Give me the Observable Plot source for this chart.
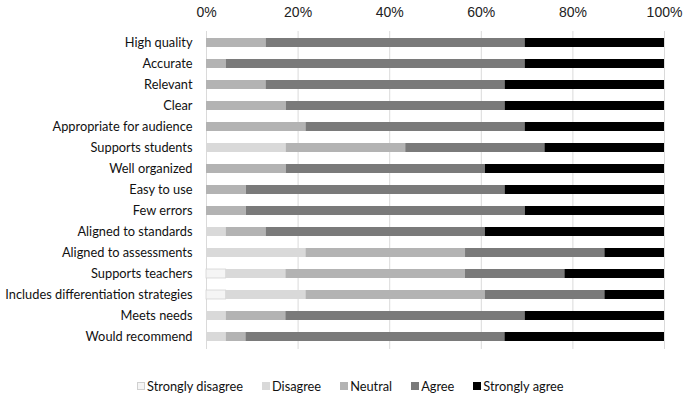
<!DOCTYPE html>
<html>
<head>
<meta charset="utf-8">
<script src="https://cdn.jsdelivr.net/npm/d3@7"></script>
<script src="https://cdn.jsdelivr.net/npm/@observablehq/plot@0.6"></script>
<style>
  body { margin: 0; background: #fff; }
  #chart svg g[aria-label="y-axis tick label"] { font-family: Lato, sans-serif; font-size: 12.8px; }
  #chart svg g[aria-label="x-axis tick label"] { font-family: "Liberation Sans", Arial, sans-serif; font-size: 14px; }
  #legend { display: flex; align-items: center; padding-left: 137px; height: 22px; margin-top: 15px;
            font-family: Lato, sans-serif; font-size: 12.8px; color: #111; }
  #legend .item { display: flex; align-items: center; margin-right: 19px; }
  #legend .sw { width: 8px; height: 8px; margin-right: 2px; box-sizing: border-box; }
</style>
</head>
<body>
<div id="chart"></div>
<div id="legend"></div>
<script>
const categories = [
  "High quality", "Accurate", "Relevant", "Clear", "Appropriate for audience",
  "Supports students", "Well organized", "Easy to use", "Few errors",
  "Aligned to standards", "Aligned to assessments", "Supports teachers",
  "Includes differentiation strategies", "Meets needs", "Would recommend"
];
const levels = ["Strongly disagree", "Disagree", "Neutral", "Agree", "Strongly agree"];
const levelColors = ["#f5f5f5", "#d9d9d9", "#b3b3b3", "#7a7a7a", "#000000"];

// percentages (per category, in the order above)
const stronglyDisagree = [0, 0, 0, 0, 0, 0, 0, 0, 0, 0, 0, 4.3, 4.3, 0, 0];
const disagree         = [0, 0, 0, 0, 0, 17.4, 0, 0, 0, 4.3, 21.7, 13.0, 17.4, 4.3, 4.3];
const neutral          = [13.0, 4.3, 13.0, 17.4, 21.7, 26.1, 17.4, 8.7, 8.7, 8.7, 34.8, 39.1, 39.1, 13.0, 4.3];
const agree            = [56.5, 65.2, 52.2, 47.8, 47.8, 30.4, 43.5, 56.5, 60.9, 47.8, 30.4, 21.7, 26.1, 52.2, 56.5];
const stronglyAgree    = [30.4, 30.4, 34.8, 34.8, 30.4, 26.1, 39.1, 34.8, 30.4, 39.1, 13.0, 21.7, 13.0, 30.4, 34.8];
const xTicks = [0, 0.2, 0.4, 0.6, 0.8, 1];

const series = [stronglyDisagree, disagree, neutral, agree, stronglyAgree];
const data = categories.flatMap((c, i) =>
  levels.map((l, j) => ({category: c, level: l, value: series[j][i]}))
);

const chart = Plot.plot({
  width: 684,
  height: 360,
  marginTop: 31,
  marginBottom: 11,
  marginLeft: 206,
  marginRight: 20,
  style: {fontFamily: "Lato, sans-serif", color: "#111", background: "#fff"},
  x: {domain: [0, 1], label: null},
  y: {domain: categories, paddingInner: 0.55, paddingOuter: 0.275, label: null},
  color: {domain: levels, range: levelColors},
  marks: [
    Plot.ruleX(xTicks, {stroke: "#dadada", strokeWidth: 1}),
    Plot.barX(data, Plot.stackX({
      x: "value", y: "category", fill: "level", order: levels, offset: "normalize",
      stroke: "#cfcfcf", strokeWidth: 0.7,
      strokeOpacity: d => d.level === "Strongly disagree" ? 1 : 0
    })),
    Plot.axisX({anchor: "top", ticks: xTicks, tickFormat: d3.format(".0%"), tickSize: 0, tickPadding: 15, label: null, fill: "#222"}),
    Plot.axisY({tickSize: 0, tickPadding: 14, label: null, fill: "#111"})
  ]
});
document.getElementById("chart").append(chart);

const legend = document.getElementById("legend");
levels.forEach((l, j) => {
  const item = document.createElement("div");
  item.className = "item";
  const sw = document.createElement("div");
  sw.className = "sw";
  sw.style.background = levelColors[j];
  if (j === 0) sw.style.border = "1px solid #d0d0d0";
  const t = document.createElement("span");
  t.textContent = l;
  item.append(sw, t);
  legend.append(item);
});
</script>
</body>
</html>
